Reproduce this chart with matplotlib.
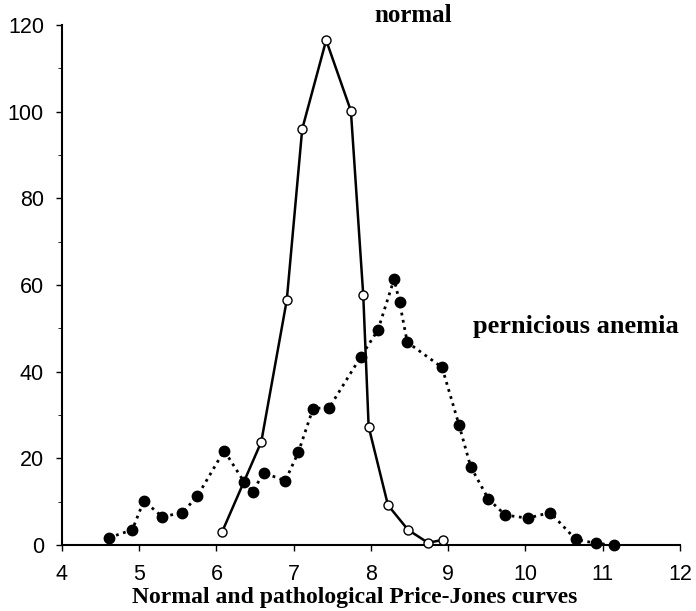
import matplotlib.pyplot as plt
from matplotlib.ticker import MultipleLocator

# diameter (micron) vs. number of cells
normal_x = [6.07, 6.58, 6.91, 7.11, 7.42, 7.74, 7.90, 7.97, 8.22, 8.48, 8.74, 8.93]
normal_y = [2.9, 23.8, 56.5, 96.0, 116.5, 100.2, 57.7, 27.3, 9.2, 3.5, 0.5, 1.2]

pern_x = [4.61, 4.91, 5.06, 5.30, 5.56, 5.75, 6.10, 6.36, 6.47, 6.61, 6.89, 7.06,
          7.25, 7.46, 7.87, 8.09, 8.30, 8.37, 8.47, 8.92, 9.14, 9.29, 9.52, 9.74,
          10.03, 10.32, 10.65, 10.91, 11.14]
pern_y = [1.7, 3.5, 10.2, 6.5, 7.5, 11.2, 21.8, 14.5, 12.3, 16.7, 14.8, 21.4,
          31.5, 31.7, 43.5, 49.6, 61.4, 56.0, 46.8, 41.0, 27.7, 18.1, 10.6, 6.9,
          6.2, 7.5, 1.3, 0.4, 0.0]

x_ticks = [4, 5, 6, 7, 8, 9, 10, 11, 12]
y_ticks = [0, 20, 40, 60, 80, 100, 120]

plt.rcParams['font.family'] = ['Liberation Sans', 'DejaVu Sans']

fig = plt.figure(figsize=(6.96, 6.11), dpi=100)
ax = fig.add_axes([0.089, 0.108, 0.888, 0.851])

ax.plot(pern_x, pern_y, color='black', linestyle=':', linewidth=2,
        marker='o', markersize=7.5, markerfacecolor='black', clip_on=False, zorder=3)
ax.plot(normal_x, normal_y, color='black', linestyle='-', linewidth=1.8,
        marker='o', markersize=6.5, markerfacecolor='white',
        markeredgecolor='black', markeredgewidth=1, clip_on=False, zorder=4)

ax.set_xlim(4, 12)
ax.set_ylim(0, 120)
ax.set_xticks(x_ticks)
ax.set_yticks(y_ticks)
ax.yaxis.set_minor_locator(MultipleLocator(10))
ax.tick_params(axis='both', labelsize=15.5, direction='out', length=4, width=1)
ax.tick_params(axis='y', pad=9)
ax.tick_params(axis='x', pad=10)
ax.tick_params(axis='y', which='minor', length=3)
for s in ['top', 'right']:
    ax.spines[s].set_visible(False)
for s in ['left', 'bottom']:
    ax.spines[s].set_linewidth(1.5)

serif = ['Liberation Serif', 'DejaVu Serif']
ax.text(8.55, 120.8, 'normal', family=serif, fontweight='bold', fontsize=18,
        ha='center', va='baseline')
ax.text(10.65, 50.5, 'pernicious anemia', family=serif, fontweight='bold', fontsize=19,
        ha='center', va='center')
fig.text(0.51, 0.013, 'Normal and pathological Price-Jones curves', family=serif,
         fontweight='bold', fontsize=17, ha='center', va='baseline')

plt.savefig('out.png', dpi=100)
